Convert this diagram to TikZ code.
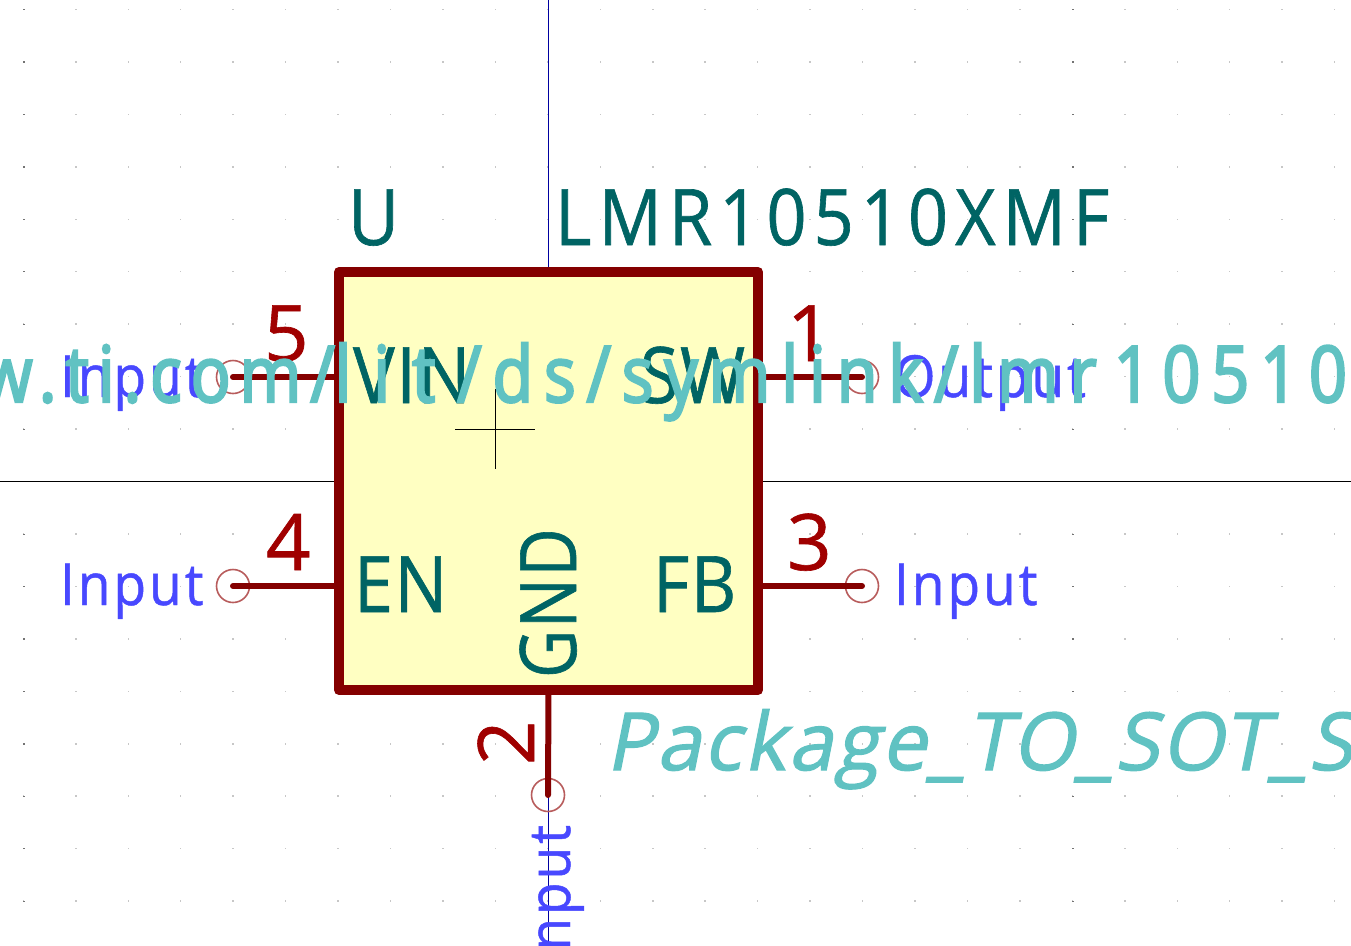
\documentclass[tikz,border=0pt]{standalone}
\usepackage{fontspec}
\newfontfamily\kname[FakeStretch=.9,LetterSpace=2,Kerning=Off,FakeBold=.8]{Open Sans}
\newfontfamily\kgnd[FakeStretch=.85,LetterSpace=2,Kerning=Off,FakeBold=.8]{Open Sans}
\newfontfamily\kval[FakeStretch=.9,LetterSpace=9,Kerning=Off,FakeBold=.8]{Open Sans}
\newfontfamily\knumf[FakeStretch=1,LetterSpace=0,Kerning=Off,FakeBold=.8]{Open Sans}
\newfontfamily\ktypef[FakeStretch=.92,LetterSpace=5,Kerning=Off,FakeBold=.8]{Open Sans}
\newfontfamily\kbold[FakeStretch=.85,LetterSpace=14,Kerning=Off,FakeBold=3]{Open Sans}
\newfontfamily\kboldA[FakeStretch=.85,LetterSpace=11.5,Kerning=Off,FakeBold=3]{Open Sans}
\newfontfamily\kboldB[FakeStretch=.85,LetterSpace=28,Kerning=Off,FakeBold=3]{Open Sans}
\newfontfamily\kital[FakeStretch=1,LetterSpace=3,Kerning=Off,FakeSlant=0.2,FakeBold=1.5]{Open Sans}
\definecolor{kbody}{HTML}{840000}
\definecolor{kfill}{HTML}{FFFFC2}
\definecolor{kteal}{HTML}{006464}
\definecolor{knum}{HTML}{A00000}
\definecolor{ktype}{HTML}{4848FF}
\definecolor{kfoot}{HTML}{60C2C2}
\definecolor{kpin}{HTML}{B85C5C}
\definecolor{kaxis}{HTML}{0000A0}
\tikzset{
  x=1pt,y=-1pt,
  ktext/.style={anchor=base west,inner sep=0pt,outer sep=0pt},
  fieldtext/.style={ktext,text=kteal,font=\kname\fontsize{78}{78}\selectfont},
  gndtext/.style={ktext,text=kteal,font=\kgnd\fontsize{78}{78}\selectfont},
  valtext/.style={ktext,text=kteal,font=\kval\fontsize{78}{78}\selectfont},
  numtext/.style={ktext,text=knum,font=\knumf\fontsize{78}{78}\selectfont},
  typetext/.style={ktext,text=ktype,font=\ktypef\fontsize{58}{58}\selectfont},
  urltext/.style={ktext,text=kfoot,font=\kbold\fontsize{78}{78}\selectfont},
  foottext/.style={ktext,text=kfoot,font=\kital\fontsize{80}{80}\selectfont},
  pinline/.style={draw=kbody,line width=6pt,line cap=round},
  pincircle/.style={circle,draw=kpin,line width=1.6pt,minimum size=33pt,inner sep=0pt,outer sep=0pt,fill=none},
  body/.style={draw=kbody,fill=kfill,line width=10pt,line join=round},
  griddot/.style={fill=black!22},
  majordot/.style={fill=black!55},
  axisx/.style={draw=black,line width=1pt},
  axisy/.style={draw=kaxis,line width=1pt}
}
\begin{document}
\begin{tikzpicture}
\useasboundingbox (0,0) rectangle (1351,945);
\clip (0,0) rectangle (1351,945);
\fill[white] (0,0) rectangle (1351,945);
% grid
\foreach \i in {0,...,25}{
  \foreach \j in {0,...,17}{
    \fill[griddot] ({23.3+52.45*\i-.7},{9.4+52.45*\j-.7}) rectangle +(1.5,1.5);
  }
}
\foreach \i in {0,20}{
  \foreach \j in {0,...,17}{
    \fill[majordot] ({23.3+52.45*\i-.5},{9.4+52.45*\j-.4}) rectangle +(2.2,1.2);
  }
}
% axes
\coordinate (xl) at (0,481);
\coordinate (xr) at (1351,481);
\coordinate (yt) at (548,0);
\coordinate (yb) at (548,945);
\draw[axisx] (xl) -- (xr);
\draw[axisy] (yt) -- (yb);
% body
\node[body,minimum width=419pt,minimum height=418pt,inner sep=0pt,outer sep=0pt,anchor=north west] (U) at (339,272) {};
% anchor cross
\coordinate (cl) at (455,429);
\coordinate (cr) at (535,429);
\coordinate (ct) at (495,389);
\coordinate (cb) at (495,469);
\draw[black,line width=.8pt] (cl) -- (cr) (ct) -- (cb);
% pins
\node[pincircle] (p5) at (233,377) {};
\node[pincircle] (p4) at (233,586) {};
\node[pincircle] (p1) at (862,377) {};
\node[pincircle] (p3) at (862,586) {};
\node[pincircle] (p2) at (548,795) {};
\draw[pinline] (p5.center) -- (U.west |- p5);
\draw[pinline] (p4.center) -- (U.west |- p4);
\draw[pinline] (p1.center) -- (U.east |- p1);
\draw[pinline] (p3.center) -- (U.east |- p3);
\draw[pinline] (p2.center) -- (U.south);
% pin numbers
\node[numtext] (n5) at (264,361) {5};
\node[numtext] (n4) at (266,570) {4};
\node[numtext] (n1) at (787,361) {1};
\node[numtext] (n3) at (787,570) {3};
\node[numtext,rotate=90] (n2) at (534,765) {2};
% pin names
\node[fieldtext] (nVIN) at (353,403) {VIN};
\node[fieldtext] (nSW) at (640,403) {SW};
\node[fieldtext] (nEN) at (354,612) {EN};
\node[fieldtext] (nFB) at (653,612) {FB};
\node[gndtext,rotate=90] (nGND) at (576,678) {GND};
% electrical types
\node[typetext] (t5) at (60,397) {Input};
\node[typetext] (t4) at (60,605) {Input};
\node[typetext] (t3) at (894,605) {Input};
\node[typetext] (t1) at (894,397) {Output};
\node[typetext,rotate=90,anchor=base east] (t2) at (570,825) {Input};
% fields
\node[fieldtext] (ref) at (348,245) {U};
\node[valtext] (val) at (555,245) {LMR10510XMF};
\node[foottext] (fp) at (606,770) {Package\_TO\_SOT\_SM};
\node[urltext] (ds) at (-19,402) {{\kboldA w.ti.com/}{\kboldB lit/}\kern11pt ds/symlink/lmr\kern17pt 10510};
\end{tikzpicture}
\end{document}
